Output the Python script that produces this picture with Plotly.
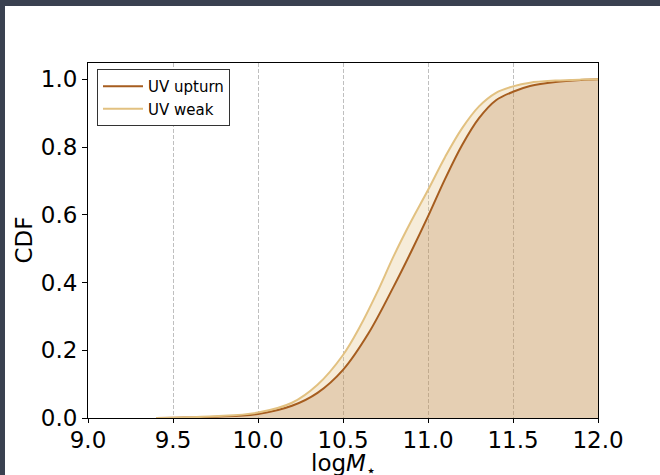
import plotly.graph_objects as go

# Cumulative distributions of stellar mass (log M*) for the two UV classes
logm_upturn = [9.40, 9.50, 9.75, 10.00, 10.20, 10.35, 10.50, 10.65, 10.80, 10.90,
               11.00, 11.10, 11.20, 11.30, 11.40, 11.50, 11.60, 11.75, 11.90, 12.00]
cdf_upturn = [0.000, 0.001, 0.004, 0.012, 0.036, 0.074, 0.142, 0.250, 0.390, 0.490,
              0.595, 0.705, 0.805, 0.885, 0.938, 0.963, 0.980, 0.992, 0.998, 1.000]

logm_weak = [9.40, 9.50, 9.75, 10.00, 10.20, 10.35, 10.50, 10.60, 10.70, 10.80, 10.90,
             11.00, 11.10, 11.20, 11.30, 11.40, 11.50, 11.60, 11.75, 11.90, 12.00]
cdf_weak = [0.000, 0.001, 0.005, 0.016, 0.045, 0.098, 0.186, 0.270, 0.370, 0.480, 0.580,
            0.673, 0.770, 0.855, 0.920, 0.960, 0.979, 0.990, 0.996, 0.999, 1.000]

x_ticks = [9.0, 9.5, 10.0, 10.5, 11.0, 11.5, 12.0]
y_ticks = [0.0, 0.2, 0.4, 0.6, 0.8, 1.0]

C_UP = "#a65d1f"
C_WEAK = "#e2c181"
FONT = "DejaVu Sans"
SMOOTH = 1.0
FS = 23

fig = go.Figure()

# shaded areas under each CDF
fig.add_trace(go.Scatter(x=logm_weak, y=cdf_weak, mode="lines", fill="tozeroy",
                         fillcolor="rgba(226,193,129,0.30)",
                         line=dict(width=0, shape="spline", smoothing=SMOOTH),
                         showlegend=False, hoverinfo="skip"))
fig.add_trace(go.Scatter(x=logm_upturn, y=cdf_upturn, mode="lines", fill="tozeroy",
                         fillcolor="rgba(166,93,31,0.20)",
                         line=dict(width=0, shape="spline", smoothing=SMOOTH),
                         showlegend=False, hoverinfo="skip"))

# CDF curves
fig.add_trace(go.Scatter(x=logm_upturn, y=cdf_upturn, mode="lines", name="UV upturn",
                         line=dict(color=C_UP, width=2, shape="spline", smoothing=SMOOTH)))
fig.add_trace(go.Scatter(x=logm_weak, y=cdf_weak, mode="lines", name="UV weak",
                         line=dict(color=C_WEAK, width=2, shape="spline", smoothing=SMOOTH)))

# window frame bands (top and left edges)
L, R, T, B = 88, 62, 63, 57
W, H = 660 - L - R, 475 - T - B
band = "#3a4150"
fig.add_shape(type="rect", xref="paper", yref="paper", layer="above",
              x0=-L / W, x1=(660 - L) / W, y0=(H + T - 6) / H, y1=(H + T) / H,
              fillcolor=band, line_width=0)
fig.add_shape(type="rect", xref="paper", yref="paper", layer="above",
              x0=-L / W, x1=(5 - L) / W, y0=-B / H, y1=(H + T) / H,
              fillcolor=band, line_width=0)

# axis titles
fig.add_annotation(text="log<i>M</i><sub>⋆</sub>", xref="paper", yref="paper",
                   x=0.5, y=(T + H - 465) / H, xanchor="center", yanchor="middle",
                   showarrow=False, font=dict(size=FS, family=FONT, color="black"))
fig.add_annotation(text="CDF", xref="paper", yref="paper", textangle=-90,
                   x=(23 - L) / W, y=0.5, xanchor="center", yanchor="middle",
                   showarrow=False, font=dict(size=FS, family=FONT, color="black"))

fig.update_layout(
    width=660, height=475,
    margin=dict(l=L, r=R, t=T, b=B, autoexpand=False),
    paper_bgcolor="white", plot_bgcolor="white",
    font=dict(family=FONT, color="black", size=FS),
    legend=dict(x=(97 - L) / W, y=(418 - 69) / H, xanchor="left", yanchor="top",
                bgcolor="white", bordercolor="#333333", borderwidth=1,
                font=dict(size=15, family=FONT), itemwidth=40, tracegroupgap=0),
    showlegend=True,
)

fig.update_xaxes(
    range=[9.0, 12.0], tickvals=x_ticks, ticktext=[f"{v:.1f}" for v in x_ticks],
    showgrid=True, gridcolor="rgba(0,0,0,0.25)", griddash="4px,2px", gridwidth=1,
    showline=True, linecolor="black", linewidth=1, mirror=True,
    ticks="outside", ticklen=4, tickcolor="black", zeroline=False, automargin=False,
    ticklabelstandoff=-3,
    tickfont=dict(size=FS, family=FONT),
)
fig.update_yaxes(
    range=[0.0, 1.048], tickvals=y_ticks, ticktext=[f"{v:.1f}" for v in y_ticks],
    showgrid=False, zeroline=False, automargin=False,
    showline=True, linecolor="black", linewidth=1, mirror=True,
    ticks="outside", ticklen=5, tickcolor="black",
    tickfont=dict(size=FS, family=FONT),
)

fig.write_html("out.html")
